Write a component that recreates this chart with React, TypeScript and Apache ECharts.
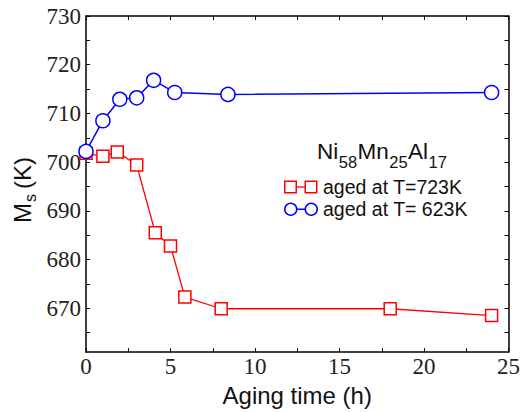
import React, { useEffect, useRef } from "react";
import * as echarts from "echarts";

// Aging time (h) and martensitic start temperature Ms (K)
const agingTime723 = [0, 1, 1.85, 3, 4.1, 5, 5.85, 8, 18, 24];
const ms723 = [701.8, 701.2, 702.1, 699.4, 685.5, 682.8, 672.3, 669.9, 669.9, 668.5];

const agingTime623 = [0, 1, 2, 3, 4, 5.25, 8.4, 24];
const ms623 = [702.2, 708.5, 712.9, 713.2, 716.8, 714.3, 713.9, 714.3];

const xTicks = [0, 2.5, 5, 7.5, 10, 12.5, 15, 17.5, 20, 22.5, 25];
const xLabels = [0, 5, 10, 15, 20, 25];
const yTicks = [665, 670, 675, 680, 685, 690, 695, 700, 705, 710, 715, 720, 725, 730];
const yLabels = [670, 680, 690, 700, 710, 720, 730];

const RED = "#ff0000";
const BLUE = "#0000ff";
const INK = "#111";
const SERIF = "'Liberation Serif', 'Times New Roman', serif";
const SANS = "'Liberation Sans', Arial, Helvetica, sans-serif";

const txt = (text: string, x: number, y: number, size: number) => ({
  type: "text",
  x,
  y,
  style: { text, fontFamily: SANS, fontSize: size, fill: INK, verticalAlign: "middle" },
});

export default function App() {
  const ref = useRef<HTMLDivElement>(null);

  useEffect(() => {
    if (!ref.current) return;
    const chart = echarts.init(ref.current, null, { renderer: "svg" });

    const axisLine = { show: true, onZero: false, lineStyle: { color: "#000", width: 1.5 } };
    const tickStyle = { lineStyle: { color: "#000", width: 1 } };

    const xBase = {
      type: "value",
      min: 0,
      max: 25,
      axisLine,
      splitLine: { show: false },
    };
    const yBase = {
      type: "value",
      min: 661,
      max: 730,
      axisLine,
      splitLine: { show: false },
    };

    chart.setOption({
      animation: false,
      backgroundColor: "#fff",
      grid: { left: 86, right: 12, top: 16, bottom: 53, containLabel: false },
      xAxis: [
        {
          ...xBase,
          position: "bottom",
          name: "Aging time (h)",
          nameLocation: "middle",
          nameGap: 22,
          nameTextStyle: { fontFamily: SANS, fontSize: 24, color: INK },
          axisTick: { show: true, inside: true, length: 4, customValues: xTicks, ...tickStyle },
          axisLabel: {
            customValues: xLabels,
            fontFamily: SERIF,
            fontSize: 23,
            color: "#222",
            margin: 3,
          },
        },
        {
          ...xBase,
          position: "top",
          axisTick: { show: true, inside: true, length: 4, customValues: xTicks, ...tickStyle },
          axisLabel: { show: false },
        },
      ],
      yAxis: [
        {
          ...yBase,
          position: "left",
          axisTick: { show: true, inside: true, length: 4, customValues: yTicks, ...tickStyle },
          axisLabel: {
            customValues: yLabels,
            fontFamily: SERIF,
            fontSize: 23,
            color: "#222",
            margin: 5,
          },
        },
        {
          ...yBase,
          position: "right",
          axisTick: { show: true, inside: true, length: 4, customValues: yTicks, ...tickStyle },
          axisLabel: { show: false },
        },
      ],
      series: [
        {
          name: "aged at T=723K",
          type: "line",
          data: agingTime723.map((t, i) => [t, ms723[i]]),
          symbol: "rect",
          symbolSize: 12,
          lineStyle: { color: RED, width: 1.3 },
          itemStyle: { color: "#fff", borderColor: RED, borderWidth: 1.5 },
          z: 2,
        },
        {
          name: "aged at T= 623K",
          type: "line",
          data: agingTime623.map((t, i) => [t, ms623[i]]),
          symbol: "circle",
          symbolSize: 14,
          lineStyle: { color: BLUE, width: 1.5 },
          itemStyle: { color: "#fff", borderColor: BLUE, borderWidth: 1.5 },
          z: 3,
        },
      ],
      graphic: [
        // y-axis title M_s (K), read bottom to top
        {
          type: "group",
          x: 22.5,
          y: 223,
          rotation: Math.PI / 2,
          children: [txt("M", 0, 0, 24), txt("s", 21, 8, 16), txt("(K)", 34, 0, 24)],
        },
        // alloy composition Ni58Mn25Al17
        {
          type: "group",
          x: 0,
          y: 0,
          children: [
            txt("Ni", 317, 151, 22.5),
            txt("58", 338.7, 161.5, 16.5),
            txt("Mn", 357.5, 151, 22.5),
            txt("25", 389.3, 161.5, 16.5),
            txt("Al", 408.1, 151, 22.5),
            txt("17", 428.6, 161.5, 16.5),
          ],
        },
        // legend key: squares joined by a short line
        {
          type: "group",
          x: 284,
          y: 180.5,
          children: [
            { type: "line", shape: { x1: 12, y1: 6.5, x2: 21, y2: 6.5 }, style: { stroke: RED, lineWidth: 1.3 } },
            { type: "rect", shape: { x: 0.75, y: 0.75, width: 11.5, height: 11.5 }, style: { fill: "#fff", stroke: RED, lineWidth: 1.5 } },
            { type: "rect", shape: { x: 21.25, y: 0.75, width: 11.5, height: 11.5 }, style: { fill: "#fff", stroke: RED, lineWidth: 1.5 } },
          ],
        },
        txt("aged at T=723K", 323, 187, 19.5),
        // legend key: circles joined by a short line
        {
          type: "group",
          x: 284,
          y: 202.5,
          children: [
            { type: "line", shape: { x1: 12, y1: 6.75, x2: 22, y2: 6.75 }, style: { stroke: BLUE, lineWidth: 1.5 } },
            { type: "circle", shape: { cx: 6.75, cy: 6.75, r: 6 }, style: { fill: "#fff", stroke: BLUE, lineWidth: 1.5 } },
            { type: "circle", shape: { cx: 27.25, cy: 6.75, r: 6 }, style: { fill: "#fff", stroke: BLUE, lineWidth: 1.5 } },
          ],
        },
        txt("aged at T= 623K", 323, 209, 19.5),
      ],
    });

    return () => chart.dispose();
  }, []);

  return (
    <div
      ref={ref}
      style={{ position: "fixed", left: 0, top: 0, width: 523, height: 412 }}
    />
  );
}
